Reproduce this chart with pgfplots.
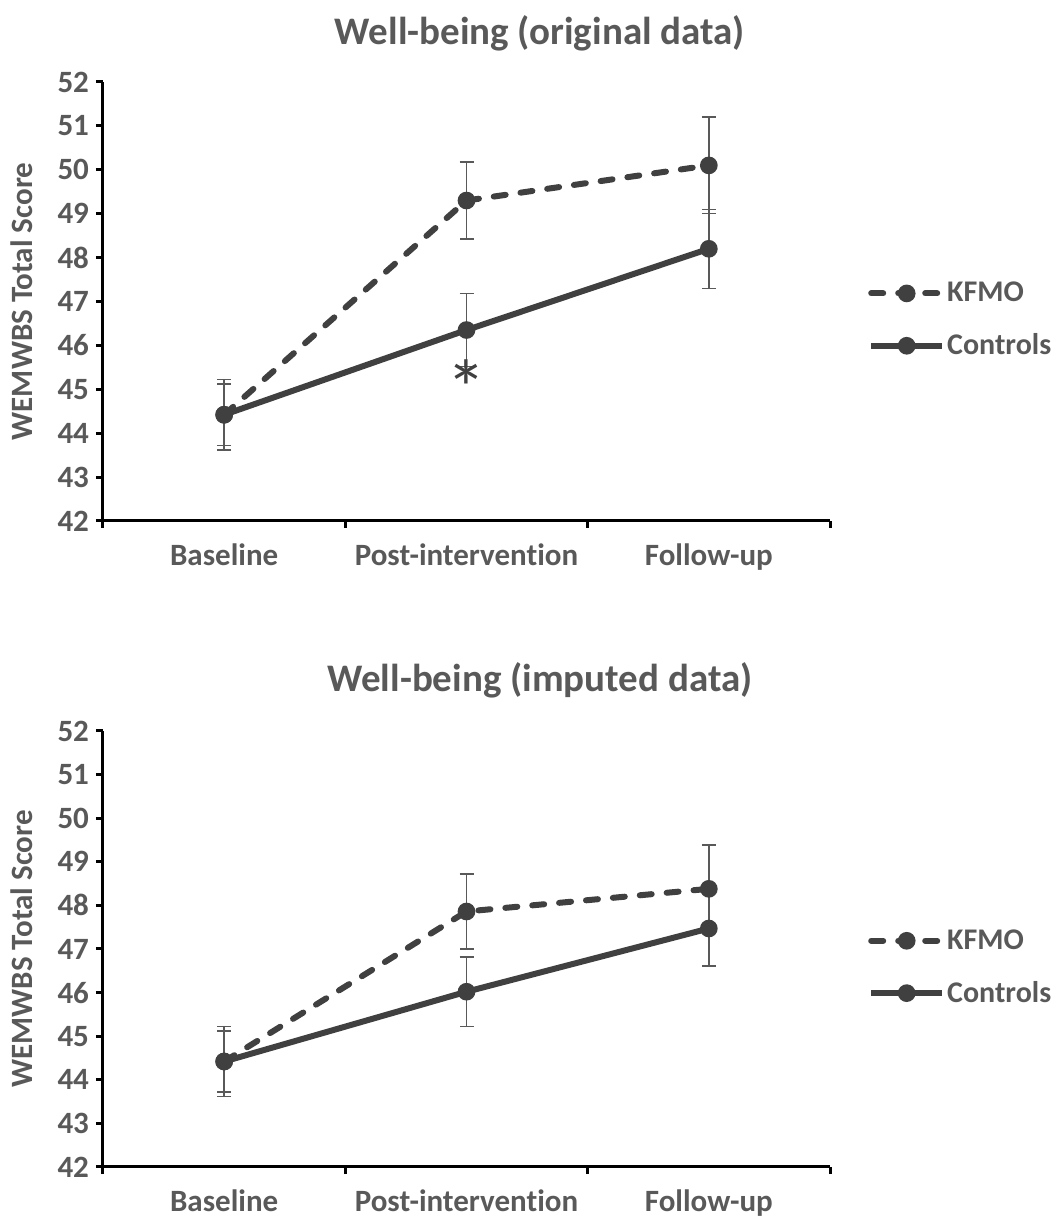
\documentclass[border=0pt]{standalone}
\usepackage{fontspec}
\setmainfont{Carlito}[Ligatures=NoCommon, RawFeature={-liga;-clig;-calt;-dlig}]
\usepackage{pgfplots}
\pgfplotsset{compat=1.18}
\definecolor{txtgray}{RGB}{89,89,89}
\definecolor{linegray}{RGB}{64,64,64}

\pgfplotsset{
  wbaxis/.style={
    scale only axis, width=363.5pt,
    xmin=0.5, xmax=3.5, ymin=42, ymax=52, ytick distance=1,
    axis x line=bottom, axis y line=left,
    axis line style={-, black, line width=1.5pt},
    every tick/.style={black, line width=1.5pt},
    tick align=outside, major tick length=3.5pt,
    xtick={0.5,1.5,2.5,3.5}, xticklabels={},
    extra x ticks={1,2,3},
    extra x tick labels={Baseline,Post-intervention,Follow-up},
    extra x tick style={major tick length=0pt},
    xticklabel style={yshift=-8pt},
    /pgf/number format/assume math mode=true,
    tick label style={font=\bfseries\fontsize{15.5}{18}\selectfont, text=txtgray},
    title style={font=\bfseries\fontsize{19.5}{22}\selectfont, text=txtgray,
      at={(0.601,1)}, anchor=center},
    every axis y label/.style={at={(axis description cs:0,0.5)},
      xshift=-40.5pt, rotate=90, anchor=center,
      font=\bfseries\fontsize{15.5}{18}\selectfont, text=txtgray},
    ylabel={WEMWBS Total Score},
    legend style={draw=none, fill=none, anchor=west, row sep=10.5pt,
      inner sep=0pt, nodes={inner xsep=1pt},
      font=\bfseries\fontsize{15}{18}\selectfont, text=txtgray},
    legend cell align=left,
    legend image code/.code={\draw[mark repeat=2,mark phase=2,#1]
      plot coordinates {(0pt,0pt) (17.75pt,0pt) (35.5pt,0pt)};},
    every axis plot/.append style={linegray, line width=3pt, mark=*,
      mark size=2.9pt, mark options={solid, fill=linegray}},
    error bars/error bar style={line width=0.75pt, txtgray, solid},
    error bars/error mark options={line width=0.75pt, txtgray, mark size=3.5pt, rotate=90, solid},
  },
  kfmo/.style={dash pattern=on 6pt off 7.5pt, line cap=round},
}

\begin{document}
\begin{tikzpicture}
\useasboundingbox (0,0) rectangle (529.5pt,612.5pt);

%% top panel: original data
\begin{axis}[wbaxis, at={(51.5pt,352pt)}, anchor=south west, height=219.5pt,
  title={Well-being (original data)}, title style={yshift=18.5pt},
  legend style={at={(1.052,0.458)}}]
\addplot[kfmo, error bars/.cd, y dir=both, y explicit] coordinates {
  (1,44.42) +- (0,0.80)
  (2,49.30) +- (0,0.88)
  (3,50.10) +- (0,1.10)
};
\addlegendentry{KFMO}
\addplot[error bars/.cd, y dir=both, y explicit] coordinates {
  (1,44.42) +- (0,0.70)
  (2,46.35) +- (0,0.83)
  (3,48.20) +- (0,0.90)
};
\addlegendentry{Controls}
\node[font=\fontsize{40}{40}\selectfont, text=linegray, anchor=base, inner sep=0pt] at (axis cs:2,44.37) {*};
\end{axis}

%% bottom panel: imputed data
\begin{axis}[wbaxis, at={(51.5pt,29pt)}, anchor=south west, height=218pt,
  title={Well-being (imputed data)}, title style={yshift=19.5pt},
  legend style={at={(1.052,0.458)}}]
\addplot[kfmo, error bars/.cd, y dir=both, y explicit] coordinates {
  (1,44.42) +- (0,0.80)
  (2,47.86) +- (0,0.86)
  (3,48.38) +- (0,1.00)
};
\addlegendentry{KFMO}
\addplot[error bars/.cd, y dir=both, y explicit] coordinates {
  (1,44.42) +- (0,0.70)
  (2,46.02) +- (0,0.80)
  (3,47.47) +- (0,0.86)
};
\addlegendentry{Controls}
\end{axis}
\end{tikzpicture}
\end{document}
